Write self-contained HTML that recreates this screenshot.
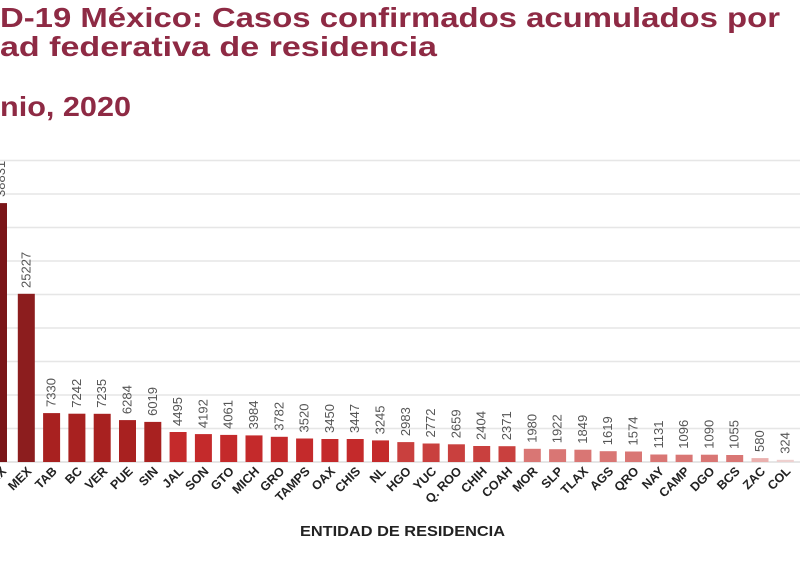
<!DOCTYPE html>
<html><head><meta charset="utf-8"><style>
html,body{margin:0;padding:0;background:#fff;width:800px;height:576px;overflow:hidden}
svg{display:block}
</style></head><body>
<svg width="800" height="576" xmlns="http://www.w3.org/2000/svg" font-family="Liberation Sans, DejaVu Sans, sans-serif">
<rect width="800" height="576" fill="#fff"/>
<text x="0" y="27" font-size="28" font-weight="bold" fill="#8e2a44" textLength="780" lengthAdjust="spacingAndGlyphs">D-19 México: Casos confirmados acumulados por</text>
<text x="0" y="56" font-size="28" font-weight="bold" fill="#8e2a44" textLength="437" lengthAdjust="spacingAndGlyphs">ad federativa de residencia</text>
<text x="0" y="116" font-size="28" font-weight="bold" fill="#8e2a44" textLength="131" lengthAdjust="spacingAndGlyphs">nio, 2020</text>
<g stroke="#e6e6e6" stroke-width="1.5">
<line x1="0" x2="800" y1="160.5" y2="160.5"/><line x1="0" x2="800" y1="194" y2="194"/>
<line x1="0" x2="800" y1="227.5" y2="227.5"/><line x1="0" x2="800" y1="261" y2="261"/>
<line x1="0" x2="800" y1="294.5" y2="294.5"/><line x1="0" x2="800" y1="328" y2="328"/>
<line x1="0" x2="800" y1="361.5" y2="361.5"/><line x1="0" x2="800" y1="395" y2="395"/>
<line x1="0" x2="800" y1="428.5" y2="428.5"/><line x1="0" x2="800" y1="462" y2="462" stroke="#ddd"/>
</g>
<g font-size="13" fill="#555">
<rect x="-10" y="203.1" width="17" height="258.9" fill="#7a1518"/><text transform="translate(5,197) rotate(-90)">38831</text>
<g transform="translate(26.3,0)"><rect x="-8.5" y="293.8" width="17" height="168.2" fill="#8c1d1e"/><text transform="translate(4,288) rotate(-90)">25227</text></g>
<g transform="translate(51.6,0)"><rect x="-8.5" y="413.1" width="17" height="48.9" fill="#a82120"/><text transform="translate(4,407) rotate(-90)">7330</text></g>
<g transform="translate(76.9,0)"><rect x="-8.5" y="413.7" width="17" height="48.3" fill="#a82120"/><text transform="translate(4,407.7) rotate(-90)">7242</text></g>
<g transform="translate(102.2,0)"><rect x="-8.5" y="413.8" width="17" height="48.2" fill="#a82120"/><text transform="translate(4,407.8) rotate(-90)">7235</text></g>
<g transform="translate(127.5,0)"><rect x="-8.5" y="420.1" width="17" height="41.9" fill="#a82120"/><text transform="translate(4,414.1) rotate(-90)">6284</text></g>
<g transform="translate(152.8,0)"><rect x="-8.5" y="421.9" width="17" height="40.1" fill="#a82120"/><text transform="translate(4,415.9) rotate(-90)">6019</text></g>
<g transform="translate(178.1,0)"><rect x="-8.5" y="432" width="17" height="30" fill="#c42a2b"/><text transform="translate(4,426) rotate(-90)">4495</text></g>
<g transform="translate(203.4,0)"><rect x="-8.5" y="434.1" width="17" height="27.9" fill="#c42a2b"/><text transform="translate(4,428.1) rotate(-90)">4192</text></g>
<g transform="translate(228.7,0)"><rect x="-8.5" y="434.9" width="17" height="27.1" fill="#c42a2b"/><text transform="translate(4,428.9) rotate(-90)">4061</text></g>
<g transform="translate(254,0)"><rect x="-8.5" y="435.4" width="17" height="26.6" fill="#c42a2b"/><text transform="translate(4,429.4) rotate(-90)">3984</text></g>
<g transform="translate(279.3,0)"><rect x="-8.5" y="436.8" width="17" height="25.2" fill="#c42a2b"/><text transform="translate(4,430.8) rotate(-90)">3782</text></g>
<g transform="translate(304.6,0)"><rect x="-8.5" y="438.5" width="17" height="23.5" fill="#c42a2b"/><text transform="translate(4,432.5) rotate(-90)">3520</text></g>
<g transform="translate(329.9,0)"><rect x="-8.5" y="439" width="17" height="23" fill="#c42a2b"/><text transform="translate(4,433) rotate(-90)">3450</text></g>
<g transform="translate(355.2,0)"><rect x="-8.5" y="439" width="17" height="23" fill="#c42a2b"/><text transform="translate(4,433) rotate(-90)">3447</text></g>
<g transform="translate(380.5,0)"><rect x="-8.5" y="440.4" width="17" height="21.6" fill="#c42a2b"/><text transform="translate(4,434.4) rotate(-90)">3245</text></g>
<g transform="translate(405.8,0)"><rect x="-8.5" y="442.1" width="17" height="19.9" fill="#c9403e"/><text transform="translate(4,436.1) rotate(-90)">2983</text></g>
<g transform="translate(431.1,0)"><rect x="-8.5" y="443.5" width="17" height="18.5" fill="#c9403e"/><text transform="translate(4,437.5) rotate(-90)">2772</text></g>
<g transform="translate(456.4,0)"><rect x="-8.5" y="444.3" width="17" height="17.7" fill="#c9403e"/><text transform="translate(4,438.3) rotate(-90)">2659</text></g>
<g transform="translate(481.7,0)"><rect x="-8.5" y="446" width="17" height="16" fill="#c9403e"/><text transform="translate(4,440) rotate(-90)">2404</text></g>
<g transform="translate(507,0)"><rect x="-8.5" y="446.2" width="17" height="15.8" fill="#c9403e"/><text transform="translate(4,440.2) rotate(-90)">2371</text></g>
<g transform="translate(532.3,0)"><rect x="-8.5" y="448.8" width="17" height="13.2" fill="#d97674"/><text transform="translate(4,442.8) rotate(-90)">1980</text></g>
<g transform="translate(557.6,0)"><rect x="-8.5" y="449.2" width="17" height="12.8" fill="#d97674"/><text transform="translate(4,443.2) rotate(-90)">1922</text></g>
<g transform="translate(582.9,0)"><rect x="-8.5" y="449.7" width="17" height="12.3" fill="#d97674"/><text transform="translate(4,443.7) rotate(-90)">1849</text></g>
<g transform="translate(608.2,0)"><rect x="-8.5" y="451.2" width="17" height="10.8" fill="#d97674"/><text transform="translate(4,445.2) rotate(-90)">1619</text></g>
<g transform="translate(633.5,0)"><rect x="-8.5" y="451.5" width="17" height="10.5" fill="#d97674"/><text transform="translate(4,445.5) rotate(-90)">1574</text></g>
<g transform="translate(658.8,0)"><rect x="-8.5" y="454.5" width="17" height="7.5" fill="#d97674"/><text transform="translate(4,448.5) rotate(-90)">1131</text></g>
<g transform="translate(684.1,0)"><rect x="-8.5" y="454.7" width="17" height="7.3" fill="#d97674"/><text transform="translate(4,448.7) rotate(-90)">1096</text></g>
<g transform="translate(709.4,0)"><rect x="-8.5" y="454.7" width="17" height="7.3" fill="#d97674"/><text transform="translate(4,448.7) rotate(-90)">1090</text></g>
<g transform="translate(734.7,0)"><rect x="-8.5" y="455" width="17" height="7" fill="#d97674"/><text transform="translate(4,449) rotate(-90)">1055</text></g>
<g transform="translate(760,0)"><rect x="-8.5" y="458.1" width="17" height="3.9" fill="#eab0ae"/><text transform="translate(4,452) rotate(-90)">580</text></g>
<g transform="translate(785.3,0)"><rect x="-8.5" y="459.8" width="17" height="2.2" fill="#eed0cf"/><text transform="translate(4,453.8) rotate(-90)">324</text></g>
</g>
<g font-size="12.5" font-weight="bold" fill="#222" text-anchor="end">
<text transform="translate(7,472) rotate(-45)">CDMX</text>
<text transform="translate(32.3,472) rotate(-45)">MEX</text>
<text transform="translate(57.6,472) rotate(-45)">TAB</text>
<text transform="translate(82.9,472) rotate(-45)">BC</text>
<text transform="translate(108.2,472) rotate(-45)">VER</text>
<text transform="translate(133.5,472) rotate(-45)">PUE</text>
<text transform="translate(158.8,472) rotate(-45)">SIN</text>
<text transform="translate(184.1,472) rotate(-45)">JAL</text>
<text transform="translate(209.4,472) rotate(-45)">SON</text>
<text transform="translate(234.7,472) rotate(-45)">GTO</text>
<text transform="translate(260,472) rotate(-45)">MICH</text>
<text transform="translate(285.3,472) rotate(-45)">GRO</text>
<text transform="translate(310.6,472) rotate(-45)">TAMPS</text>
<text transform="translate(335.9,472) rotate(-45)">OAX</text>
<text transform="translate(361.2,472) rotate(-45)">CHIS</text>
<text transform="translate(386.5,472) rotate(-45)">NL</text>
<text transform="translate(411.8,472) rotate(-45)">HGO</text>
<text transform="translate(437.1,472) rotate(-45)">YUC</text>
<text transform="translate(462.4,472) rotate(-45)">Q. ROO</text>
<text transform="translate(487.7,472) rotate(-45)">CHIH</text>
<text transform="translate(513,472) rotate(-45)">COAH</text>
<text transform="translate(538.3,472) rotate(-45)">MOR</text>
<text transform="translate(563.6,472) rotate(-45)">SLP</text>
<text transform="translate(588.9,472) rotate(-45)">TLAX</text>
<text transform="translate(614.2,472) rotate(-45)">AGS</text>
<text transform="translate(639.5,472) rotate(-45)">QRO</text>
<text transform="translate(664.8,472) rotate(-45)">NAY</text>
<text transform="translate(690.1,472) rotate(-45)">CAMP</text>
<text transform="translate(715.4,472) rotate(-45)">DGO</text>
<text transform="translate(740.7,472) rotate(-45)">BCS</text>
<text transform="translate(766,472) rotate(-45)">ZAC</text>
<text transform="translate(791.3,472) rotate(-45)">COL</text>
</g>
<text x="300" y="536" font-size="15" font-weight="bold" fill="#222" textLength="205" lengthAdjust="spacingAndGlyphs">ENTIDAD DE RESIDENCIA</text>
</svg>
</body></html>
